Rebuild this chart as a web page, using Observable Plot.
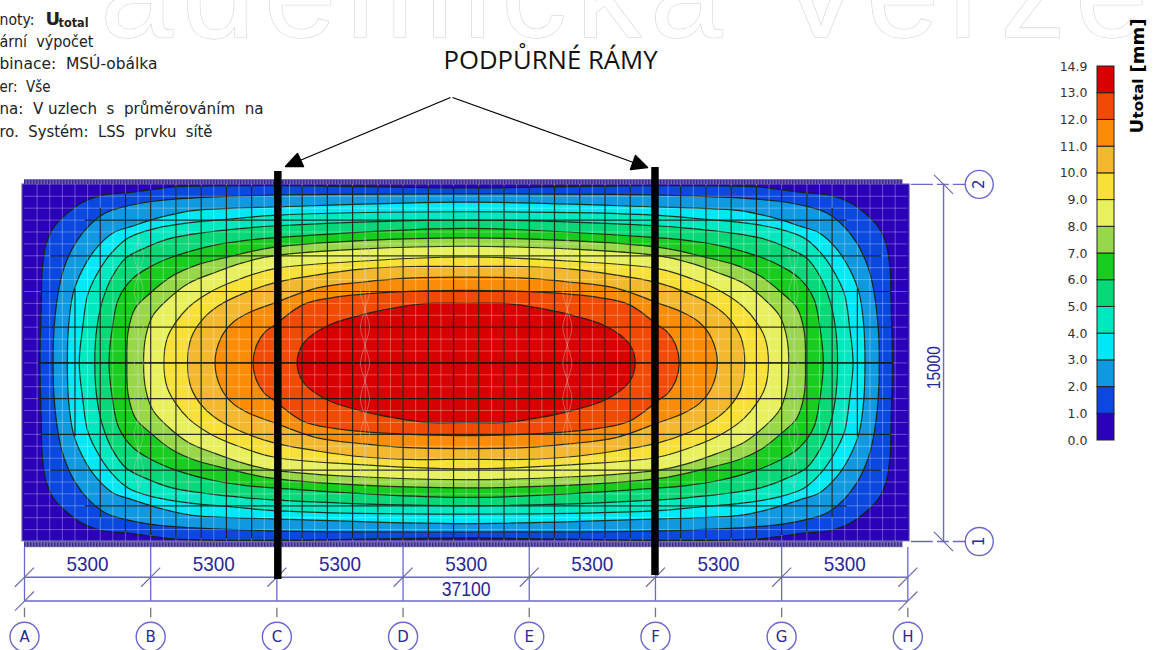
<!DOCTYPE html>
<html><head><meta charset="utf-8">
<script src="https://cdn.jsdelivr.net/npm/d3@7"></script>
<script src="https://cdn.jsdelivr.net/npm/@observablehq/plot@0.6"></script>
<style>html,body{margin:0;background:#fff}#wrap{position:relative;width:1153px;height:650px;overflow:hidden}svg{position:absolute;left:0;top:0;background:transparent!important}</style>
</head><body><div id="wrap"></div>
<script>
// Axis data (mm)
const axisNames = ["A","B","C","D","E","F","G","H"];
const axisX = [0,5300,10600,15900,21200,26500,31800,37100];
const spans = [5300,5300,5300,5300,5300,5300,5300];
const plateLength = 37100, plateWidth = 15000;
// Contour outlines, upper-left quarter (x,y in mm), mirrored about the plate centre
const level1 = [[650,7500],[700,9800],[750,11450],[900,12450],[1200,13150],[1700,13700],[2450,14250],[3300,14550],[4350,14650],[5500,14800],[6350,14900],[10650,14950],[18550,14850]];
const level2 = [[1200,7500],[1250,9050],[1450,10650],[1700,11600],[2150,12550],[2700,13250],[3400,13800],[4350,14100],[5500,14300],[7500,14450],[10450,14550],[18550,14600]];
const level3 = [[1800,7500],[1850,9050],[2050,10450],[2450,11450],[3000,12300],[3700,12950],[4550,13250],[5650,13600],[7050,13900],[8750,14000],[10450,14050],[18550,14250]];
const level4 = [[2300,7500],[2450,9050],[2650,10350],[3000,11150],[3550,12000],[4350,12750],[5500,13150],[7050,13400],[8750,13550],[10450,13700],[18550,13850]];
const level5 = [[2950,7500],[3050,9050],[3300,10200],[3700,11150],[4250,11900],[5100,12350],[6200,12750],[7750,13000],[9150,13150],[10450,13250],[18550,13500]];
const level6 = [[3550,7500],[3700,9050],[3950,10200],[4550,11050],[5400,11600],[6350,12000],[8000,12450],[9300,12650],[10450,12750],[18550,13150]];
const level7 = [[4300,7500],[4350,8800],[4650,9800],[5300,10450],[6200,11150],[7200,11600],[8550,11950],[10450,12350],[18550,12750]];
const level8 = [[5000,7500],[5100,8650],[5400,9500],[6050,10200],[6900,10850],[8000,11300],[9150,11700],[10450,12000],[18550,12400]];
const level9 = [[5850,7500],[6000,8550],[6350,9200],[6900,9850],[7750,10450],[8850,10950],[10450,11450],[13700,11750],[18550,11950]];
const level10 = [[6850,7500],[7000,8550],[7500,9350],[8150,9900],[9150,10400],[10450,10850],[12300,11200],[14250,11450],[16200,11550],[18550,11550]];
const level11 = [[8000,7500],[8250,8550],[8750,9200],[9400,9600],[10450,10000],[12300,10650],[14250,10900],[15900,11050],[18550,11100]];
const level12 = [[9600,7500],[9750,8250],[10100,8800],[10450,9050],[11700,9950],[13000,10250],[15100,10450],[18550,10550]];
const level13 = [[11450,7500],[11700,8300],[12700,9050],[14100,9500],[15500,9800],[16900,10000],[18550,10000]];
const levels = [level1,level2,level3,level4,level5,level6,level7,level8,level9,level10,level11,level12,level13];
// Legend
const legendTicks = ["0.0","1.0","2.0","3.0","4.0","5.0","6.0","7.0","8.0","9.0","10.0","11.0","12.0","13.0","14.9"];
const bandColors = ["#2a00b8","#0a48e0","#1098e0","#00e8f8","#00e8c0","#08d878","#18cc20","#98d848","#e8f060","#f8e038","#f4b830","#fa8c08","#f04a04","#d80000"];
const bandNames = legendTicks.slice(0,14);
// Mesh: dark columns [x, top y], dark rows [y, left x]
const darkColumns = [[2120,10600],[3180,14000],[4240,14600],[5300,14750],[6360,14900],[7420,14900],[8480,14900],[9540,14900],[10600,14900],[11660,14900],[12720,14900],[13780,14900],[14840,14900],[15900,14900],[16960,14900],[18020,14900]];
const darkRows = [[13500,2550],[12000,1100],[10500,700],[9000,600],[7500,600]];
const lensColumns = [4800,14300,22800,32300];
const lensY = [2250,3000,3750,4500,5250,6000,6750,7500,8250,9000,9750,10500,11250,12000,12750];
const lensSway = [0,1,0,-1,0,1,0,-1,0,1,0,-1,0,1,0];

const levelRows = [];
levels.forEach((q,k)=>{
  const name = bandNames[k+1];
  const top = q.map(([x,y])=>[x,y]);
  const topR = q.slice(0,-1).reverse().map(([x,y])=>[plateLength-x,y]);
  const botR = q.slice(1).map(([x,y])=>[plateLength-x,plateWidth-y]);
  const botL = q.slice(1,-1).reverse().map(([x,y])=>[x,plateWidth-y]);
  for (const [x,y] of [...top,...topR,...botR,...botL]) levelRows.push({name,x,y});
});
const meshX = d3.range(530,plateLength,530), meshY = d3.range(500,plateWidth,500);
const darkV = darkColumns.flatMap(([x,t])=>[{x,t},{x:plateLength-x,t}]);
const darkH = darkRows.flatMap(([y,l])=>[{y,l},{y:plateWidth-y,l}]);
const lensRows = lensColumns.flatMap(c=>[1,-1].flatMap(s=>lensY.map((y,i)=>({id:c+"/"+s,x:c+s*lensSway[i]*190,y}))));
const head1 = [[10962,15750],[11466,16296],[11718,15750]].map(([x,y])=>({x,y}));
const head2 = [[26166,15708],[25662,16212],[25452,15624]].map(([x,y])=>({x,y}));

const DIM="#6a68cc", INK="#28289a", UI="DejaVu Sans, sans-serif", NARROW="Liberation Sans, sans-serif";
const frameText=(t,dx,dy,o={})=>Plot.text([t],{frameAnchor:"top-left",dx,dy,textAnchor:"start",lineAnchor:"middle",fontFamily:UI,fontSize:15,fill:"#222",...o});
const fitMain = {"5300":42,"37100":49,"15000":43,"PODPŮRNÉ RÁMY":214,"ární  výpočet":94,"binace:  MSÚ-obálka":158,"er:  Vše":51,"na:  V uzlech  s  průměrováním  na":264,"ro.  Systém:  LSS  prvku  sítě":213,"noty:":35,"ademická Verze":1047,"total":30};
const fitLegend = {"total":40,"[mm]":54};

const slashes = axisX.map(x=>({x,y:-1500}));
const main = Plot.plot({
  width:1153,height:650,margin:0,
  x:{domain:[-1008,47418],range:[0,1153],axis:null},
  y:{domain:[-4578,22722],range:[650,0],axis:null},
  color:{type:"ordinal",domain:bandNames,range:bandColors},
  marks:[
    frameText("ademická Verze",100,36,{fontSize:130,fill:"#fff",stroke:"#cfcfcf",strokeWidth:1.1,lineAnchor:"bottom",fontFamily:"Liberation Sans"}),
    // plate
    Plot.rect([0],{x1:-90,x2:37180,y1:0,y2:15000,fill:bandColors[0],stroke:"#8a8aa8",strokeWidth:1}),
    Plot.rect([0],{x1:0,x2:36900,y1:15000,y2:15200,fill:"#6e5cb4"}),
    Plot.rect([0],{x1:0,x2:36900,y1:-260,y2:0,fill:"#7468ac"}),
    Plot.ruleY([15100,-130],{x1:0,x2:36900,stroke:"#3a2a90",strokeWidth:4,strokeDasharray:"1.5,1.5"}),
    // filled contour bands
    Plot.line(levelRows,{x:"x",y:"y",z:"name",fill:"name",stroke:"#142008",strokeWidth:1.2,strokeOpacity:.9,curve:"catmull-rom-closed"}),
    // light mesh
    Plot.ruleX(meshX,{y1:0,y2:15000,stroke:"#fff",strokeOpacity:.3,strokeWidth:1}),
    Plot.ruleY(meshY,{x1:0,x2:37100,stroke:"#fff",strokeOpacity:.3,strokeWidth:1}),
    // dark mesh
    Plot.ruleX(darkV,{x:"x",y1:d=>15000-d.t,y2:"t",stroke:"#081008",strokeOpacity:.85,strokeWidth:1.2}),
    Plot.ruleY(darkH,{y:"y",x1:"l",x2:d=>37100-d.l,stroke:"#081008",strokeOpacity:.85,strokeWidth:1.2}),
    Plot.line(lensRows,{x:"x",y:"y",z:"id",stroke:"#c4c4bc",strokeOpacity:.45,strokeWidth:1,curve:"catmull-rom"}),
    // dimensions
    Plot.ruleX(axisX,{y1:-2500,y2:-250,stroke:DIM,strokeWidth:1.3}),
    Plot.ruleX(axisX,{y1:-2800,y2:-3200,stroke:"#777",strokeWidth:1.3}),
    Plot.ruleY([-1500,-2500],{x1:0,x2:37100,stroke:DIM,strokeWidth:1.4}),
    Plot.link(slashes,{x1:d=>d.x-400,y1:d=>d.y-400,x2:d=>d.x+400,y2:d=>d.y+400,stroke:"#6a68a8",strokeWidth:1.1}),
    Plot.link([0,37100],{x1:d=>d-400,y1:-2900,x2:d=>d+400,y2:-2100,stroke:"#6a68a8",strokeWidth:1.1}),
    Plot.text(spans,{x:(d,i)=>axisX[i]+2650,y:-950,text:d=>String(d),fill:INK,fontFamily:NARROW,fontSize:21}),
    Plot.text([37100],{x:18550,y:-2000,text:d=>String(d),fill:INK,fontFamily:NARROW,fontSize:21}),
    // right dimension
    Plot.ruleX([38600],{y1:0,y2:15000,stroke:DIM,strokeWidth:1.4}),
    Plot.ruleY([0,15000],{x1:37250,x2:40100,stroke:DIM,strokeWidth:1.4,strokeDasharray:"22,4,12,4"}),
    Plot.link([0,15000],{x1:38200,y1:d=>d+400,x2:39000,y2:d=>d-400,stroke:"#6a68a8",strokeWidth:1.1}),
    Plot.text([plateWidth],{x:38200,y:7300,text:d=>String(d),rotate:-90,fill:INK,fontFamily:NARROW,fontSize:19}),
    // axis bubbles
    Plot.dot(axisX,{x:d=>d,y:-4000,r:14.5,fill:"#fff",stroke:DIM,strokeWidth:1.4}),
    Plot.text(axisNames,{x:(d,i)=>axisX[i],y:-4000,fill:INK,fontFamily:UI,fontSize:15}),
    Plot.dot([0,15000],{x:40100,y:d=>d,r:14,fill:"#fff",stroke:DIM,strokeWidth:1.4}),
    Plot.text(["1","2"],{x:40100,y:(d,i)=>i*15000,rotate:-90,fill:INK,fontFamily:UI,fontSize:15}),
    // supporting frames
    Plot.ruleX([10640],{y1:-1596,y2:15540,stroke:"#000",strokeWidth:7.5}),
    Plot.ruleX([26480],{y1:-1428,y2:15708,stroke:"#000",strokeWidth:7.5}),
    Plot.link([0],{x1:17892,y1:18648,x2:10962,y2:15750,stroke:"#000",strokeWidth:1.3}),
    Plot.link([0],{x1:17976,y1:18648,x2:26166,y2:15708,stroke:"#000",strokeWidth:1.3}),
    Plot.line(head1,{x:"x",y:"y",fill:"#000",stroke:"#000",curve:"linear-closed"}),
    Plot.line(head2,{x:"x",y:"y",fill:"#000",stroke:"#000",curve:"linear-closed"}),
    frameText("PODPŮRNÉ RÁMY",443,60,{fontFamily:"Open Sans",fontSize:25,fill:"#111"}),
    // info block
    frameText("noty:",-1,20),
    frameText("U",45,19,{fontWeight:"bold",fontSize:18}),
    frameText("total",58,22,{fontWeight:"bold",fontSize:13}),
    frameText("ární  výpočet",-1,42),
    frameText("binace:  MSÚ-obálka",-1,64),
    frameText("er:  Vše",-1,87),
    frameText("na:  V uzlech  s  průměrováním  na",-1,109),
    frameText("ro.  Systém:  LSS  prvku  sítě",-1,132)
  ]
});
const legendRows = bandNames.map((name,i)=>({name,i}));
const legend = Plot.plot({
  width:113,height:460,margin:0,
  x:{domain:[0,113],range:[0,113],axis:null},
  y:{domain:[0,14],range:[440,66],axis:null},
  color:{type:"ordinal",domain:bandNames,range:bandColors},
  marks:[
    Plot.rect(legendRows,{x1:57,x2:74,y1:"i",y2:d=>d.i+1,fill:"name",stroke:"#222",strokeWidth:1}),
    Plot.text(legendTicks,{x:47,y:(d,i)=>i,text:d=>d,textAnchor:"end",fontFamily:UI,fontSize:12.5,fill:"#333"}),
    Plot.text(["U"],{frameAnchor:"top-left",dx:97,dy:133,rotate:-90,textAnchor:"start",lineAnchor:"middle",fontFamily:UI,fontWeight:"bold",fontSize:18,fill:"#000"}),
    Plot.text(["total"],{frameAnchor:"top-left",dx:98,dy:118,rotate:-90,textAnchor:"start",lineAnchor:"middle",fontFamily:UI,fontWeight:"bold",fontSize:13.5,fill:"#000"}),
    Plot.text(["[mm]"],{frameAnchor:"top-left",dx:98,dy:72,rotate:-90,textAnchor:"start",lineAnchor:"middle",fontFamily:UI,fontWeight:"bold",fontSize:17,fill:"#000"})
  ]
});
legend.style.left="1040px";
const wrap=document.getElementById("wrap");
wrap.append(main,legend);
const applyFit=(svg,fit)=>svg.querySelectorAll("text").forEach(t=>{
  const w = fit[t.textContent];
  if (w) { t.setAttribute("textLength",w); t.setAttribute("lengthAdjust",t.textContent==="ademická Verze"?"spacing":"spacingAndGlyphs"); }
});
applyFit(main,fitMain); applyFit(legend,fitLegend);
</script></body></html>
